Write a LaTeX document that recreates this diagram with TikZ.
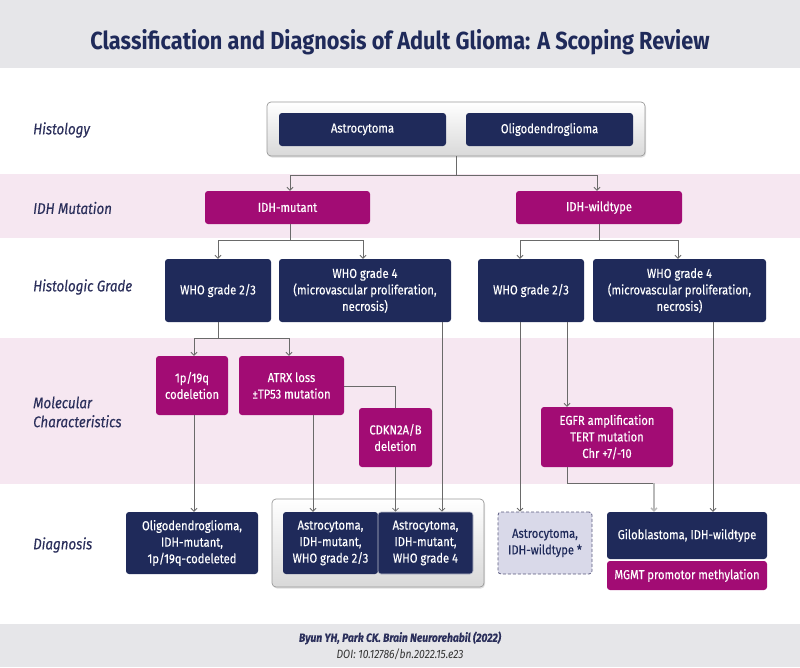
\documentclass[tikz,border=0pt]{standalone}
\usepackage{fontspec}
\setmainfont{Fira Sans}[FakeStretch=0.86,FakeBold=0.3]
\newfontfamily\titlefont{Fira Sans}[FakeStretch=0.88]
\newfontfamily\lightfont{Fira Sans}[FakeStretch=0.86]
\usetikzlibrary{arrows.meta,shadows}
\definecolor{navy}{HTML}{1F2A5A}
\definecolor{mag}{HTML}{A20C74}
\definecolor{pinkband}{HTML}{F6E7F1}
\definecolor{hdr}{HTML}{E6E6E9}
\definecolor{labtxt}{HTML}{2B2F5B}
\definecolor{lav}{HTML}{D9D9E9}
\definecolor{lavline}{HTML}{5A5A80}
\definecolor{linegray}{HTML}{6A6A6A}
\tikzset{
  boxbase/.style={rounded corners=3pt, inner sep=2pt, align=center, text=white, font=\fontsize{13}{16.5}\selectfont},
  navybox/.style={boxbase, fill=navy},
  magbox/.style={boxbase, fill=mag},
  dashbox/.style={boxbase, fill=lav, draw=lavline, dashed, dash pattern=on 3pt off 2pt, line width=0.8pt, text=navy},
  contbox/.style={rounded corners=4pt, draw=gray!80, line width=0.7pt, top color=white, bottom color=gray!30, drop shadow={opacity=0.25, shadow xshift=1pt, shadow yshift=-1.5pt}},
  rowlab/.style={anchor=west, align=left, inner sep=0pt, text=labtxt, font=\fontsize{15.5}{19}\selectfont\itshape},
  conn/.style={draw=linegray, line width=0.8pt},
  arr/.style={conn, -{Straight Barb[length=3pt,width=6pt]}},
}
\begin{document}
\begin{tikzpicture}[x=1pt,y=-1pt]
\useasboundingbox (0,0) rectangle (800,667);
% bands
\fill[hdr] (0,0) rectangle (800,68);
\fill[pinkband] (0,174) rectangle (800,238);
\fill[pinkband] (0,338) rectangle (800,484);
\fill[hdr] (0,624) rectangle (800,667);
% title
\node[text=navy, font=\titlefont\fontsize{24.7}{28}\selectfont\bfseries] (title) at (400,42) {Classification and Diagnosis of Adult Glioma: A Scoping Review};
% row labels
\node[rowlab] (lhist) at (33,130) {Histology};
\node[rowlab] (lidh) at (33,208) {IDH Mutation};
\node[rowlab] (lgrade) at (33,287) {Histologic Grade};
\node[rowlab] (lmol) at (33,412) {Molecular\\Characteristics};
\node[rowlab] (ldiag) at (33,545) {Diagnosis};
% histology
\node[contbox, minimum width=378pt, minimum height=54pt] (hist) at (456,129) {};
\node[navybox, minimum width=167pt, minimum height=33pt] (astro) at (362.5,129.5) {Astrocytoma};
\node[navybox, minimum width=167pt, minimum height=33pt] (oligo) at (549.5,129.5) {Oligodendroglioma};
% IDH
\node[magbox, minimum width=165pt, minimum height=33pt] (idhm) at (287.5,207.5) {IDH-mutant};
\node[magbox, minimum width=166pt, minimum height=33pt] (idhw) at (599,207.5) {IDH-wildtype};
% grades
\node[navybox, minimum width=106pt, minimum height=63pt] (g23L) at (218,290.5) {WHO grade 2/3};
\node[navybox, minimum width=172pt, minimum height=63pt] (g4L) at (365,290.5) {WHO grade 4\\(microvascular proliferation,\\necrosis)};
\node[navybox, minimum width=106pt, minimum height=63pt] (g23R) at (531,290.5) {WHO grade 2/3};
\node[navybox, minimum width=173pt, minimum height=63pt] (g4R) at (679.5,290.5) {WHO grade 4\\(microvascular proliferation,\\necrosis)};
% molecular
\node[magbox, minimum width=72pt, minimum height=59pt] (p19q) at (192,385.5) {1p/19q\\codeletion};
\node[magbox, minimum width=105pt, minimum height=59pt] (atrx) at (291.5,385.5) {ATRX loss\\±TP53 mutation};
\node[magbox, minimum width=73pt, minimum height=59pt] (cdkn) at (395.5,437.5) {CDKN2A/B\\deletion};
\node[magbox, minimum width=132pt, minimum height=60pt] (egfr) at (607,437) {EGFR amplification\\TERT mutation\\Chr +7/-10};
% diagnosis
\node[navybox, minimum width=132pt, minimum height=62pt] (dOligo) at (192,543) {Oligodendroglioma,\\IDH-mutant,\\1p/19q-codeleted};
\node[contbox, minimum width=212pt, minimum height=88pt] (dcont) at (378,543) {};
\node[navybox, minimum width=95pt, minimum height=62pt] (dA23) at (330.5,543) {Astrocytoma,\\IDH-mutant,\\WHO grade 2/3};
\node[navybox, draw=white!70!navy, line width=0.6pt, minimum width=95pt, minimum height=62pt] (dA4) at (425.5,543) {Astrocytoma,\\IDH-mutant,\\WHO grade 4};
\node[dashbox, minimum width=94pt, minimum height=62pt] (dAwt) at (545,543) {Astrocytoma,\\IDH-wildtype *};
\node[navybox, minimum width=160pt, minimum height=47pt] (gbm) at (687,535.5) {Giloblastoma, IDH-wildtype};
\node[magbox, minimum width=160pt, minimum height=29pt] (mgmt) at (687,575.5) {MGMT promotor methylation};
% connectors
\draw[arr] (hist.south) -- ++(0,19) -| ([xshift=2.5pt]idhm.north);
\draw[arr] (hist.south) -- ++(0,19) -| ([xshift=-2pt]idhw.north);
\draw[arr] ([xshift=2.5pt]idhm.south) -- ++(0,16) -| (g23L.north);
\draw[arr] ([xshift=2.5pt]idhm.south) -- ++(0,16) -| ([xshift=-2pt]g4L.north);
\draw[arr] (idhw.south) -- ++(0,16) -| ([xshift=-11pt]g23R.north);
\draw[arr] (idhw.south) -- ++(0,16) -| ([xshift=-1.5pt]g4R.north);
\draw[arr] (g23L.south) -- ++(0,16) -| ([xshift=2pt]p19q.north);
\draw[arr] (g23L.south) -- ++(0,16) -| ([xshift=-2.5pt]atrx.north);
\draw[conn] ([yshift=-0.5pt]atrx.east) -| (cdkn.north);
\draw[arr] ([xshift=2pt]p19q.south) -- ([xshift=2pt]p19q.south |- dOligo.north);
\draw[arr] ([xshift=21.5pt]atrx.south) -- ([xshift=21.5pt]atrx.south |- dA23.north);
\draw[arr] (cdkn.south) -- (cdkn.south |- dA4.north);
\draw[arr] ([xshift=77pt]g4L.south) -- ([xshift=77pt]g4L.south |- dA4.north);
\draw[arr] ([xshift=-11pt]g23R.south) -- ([xshift=-11pt]g23R.south |- dAwt.north);
\draw[arr] ([xshift=36pt]g23R.south) -- ([xshift=36pt]g23R.south |- egfr.north);
\draw[conn] ([xshift=-40pt]egfr.south) -- ++(0,16) -| coordinate[pos=1] (ejoin) ([xshift=-33pt,yshift=-16pt]egfr.south -| gbm.north);
\draw[arr, draw=gray!55, line width=1.3pt] ([xshift=-33pt]gbm.north |- ejoin) -- ([xshift=-33pt]gbm.north);
\draw[arr] ([xshift=33.5pt]g4R.south) -- ([xshift=33.5pt]g4R.south |- gbm.north);
% footer
\node[text=labtxt, font=\fontsize{12}{14}\selectfont\itshape\bfseries] (cite) at (400,638) {Byun YH, Park CK. Brain Neurorehabil (2022)};
\node[text=gray!40!black, font=\lightfont\fontsize{12}{13}\selectfont\itshape] (doi) at (400,654) {DOI: 10.12786/bn.2022.15.e23};
\end{tikzpicture}
\end{document}
